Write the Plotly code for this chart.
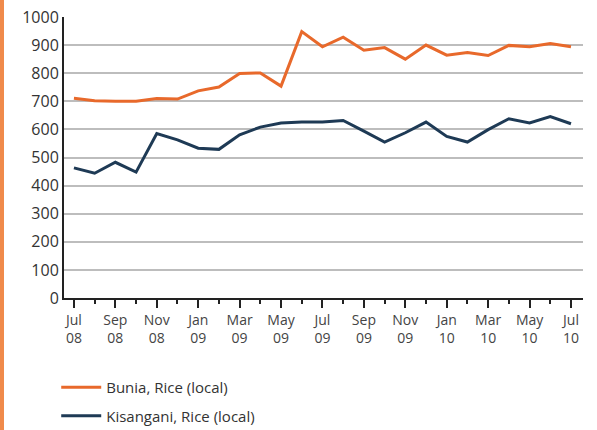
import plotly.graph_objects as go

months = list(range(25))
tick_vals = list(range(0, 25, 2))
tick_text = ["Jul<br>08", "Sep<br>08", "Nov<br>08", "Jan<br>09", "Mar<br>09", "May<br>09",
             "Jul<br>09", "Sep<br>09", "Nov<br>09", "Jan<br>10", "Mar<br>10", "May<br>10", "Jul<br>10"]

bunia = [711, 702, 700, 700, 710, 708, 737, 751, 799, 801, 754, 948, 894, 928,
         882, 891, 850, 900, 864, 874, 863, 899, 894, 906, 894]
kisangani = [463, 444, 483, 448, 585, 563, 533, 529, 581, 608, 623, 626, 626, 632,
             594, 555, 588, 626, 575, 555, 599, 638, 623, 646, 620]

fig = go.Figure()
fig.add_trace(go.Scatter(x=months, y=bunia, mode="lines", name="Bunia, Rice (local)",
                         line=dict(color="#e8692b", width=3), legendgroup="a"))
fig.add_trace(go.Scatter(x=months, y=kisangani, mode="lines", name="Kisangani, Rice (local)",
                         line=dict(color="#1e3a55", width=3), legendgroup="b"))

font_family = "Open Sans, Liberation Sans, sans-serif"
fig.update_layout(
    width=597, height=430,
    margin=dict(l=64, r=14, t=17, b=132, autoexpand=False),
    paper_bgcolor="white", plot_bgcolor="white",
    font=dict(family=font_family, size=14, color="#333333"),
    showlegend=True,
    legend=dict(x=-0.015, xanchor="left", y=-0.26, yanchor="top",
                font=dict(size=15, color="#333333"), tracegroupgap=6,
                itemwidth=40, bgcolor="rgba(0,0,0,0)"),
    xaxis=dict(range=[-0.48, 24.58], tickvals=tick_vals, ticktext=tick_text, automargin=False,
               showgrid=False, zeroline=False, showline=True, linecolor="#222222", linewidth=2,
               ticks="outside", ticklen=8, tickwidth=1.5, tickcolor="#222222",
               minor=dict(ticks="outside", dtick=1, tick0=0, ticklen=4, tickwidth=1.5, tickcolor="#222222"),
               tickfont=dict(size=14, color="#444444")),
    yaxis=dict(range=[0, 1000], dtick=100, showgrid=True, gridcolor="#bdbdbd", gridwidth=2,
               automargin=False,
               zeroline=False, showline=True, linecolor="#222222", linewidth=2,
               ticks="", tickfont=dict(size=16, color="#333333")),
    shapes=[dict(type="rect", xref="paper", yref="paper",
                 x0=-64/519, x1=-60/519, y0=-132/281, y1=1 + 17/281,
                 fillcolor="#f08a4b", line=dict(width=0), layer="above")],
)

fig.write_html("out.html", config={"displayModeBar": False},
               post_script="document.body.style.margin='0';document.body.style.overflow='hidden';")
